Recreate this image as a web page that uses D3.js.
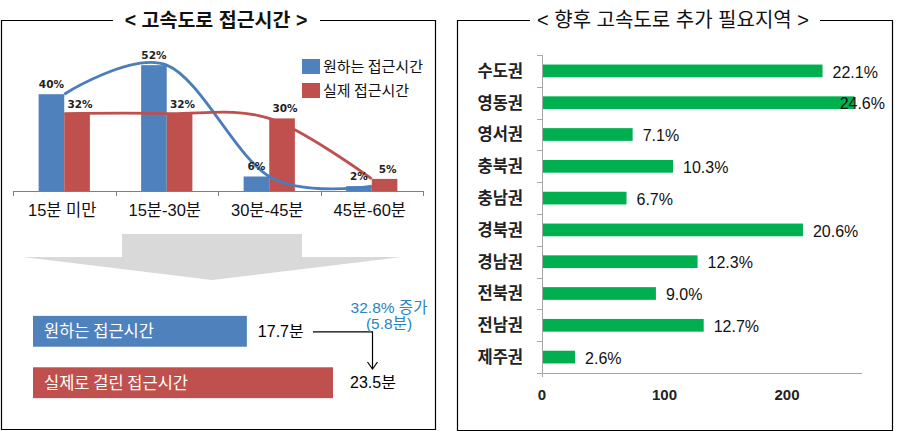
<!DOCTYPE html>
<html><head><meta charset="utf-8">
<script src="https://cdn.jsdelivr.net/npm/d3@7"></script>
<style>body{margin:0;background:#fff} svg{display:block}</style>
</head><body>
<svg id="c" width="897" height="431"></svg>
<script>
// ---------- data ----------
const leftTitle = "< 고속도로 접근시간 >";
const rightTitle = "< 향후 고속도로 추가 필요지역 >";
const timeCategories = ["15분 미만", "15분-30분", "30분-45분", "45분-60분"];
const seriesNames = ["원하는 접근시간", "실제 접근시간"];
const desiredPct = [40, 52, 6, 2];
const actualPct = [32, 32, 30, 5];
const summaryLabels = ["원하는 접근시간", "실제로 걸린 접근시간"];
const summaryMinutes = [17.7, 23.5];
const increaseLabel = ["32.8% 증가", "(5.8분)"];
const regions = ["수도권", "영동권", "영서권", "충북권", "충남권", "경북권", "경남권", "전북권", "전남권", "제주권"];
const regionCounts = [229, 255, 74, 107, 69, 213, 127, 93, 132, 27];
const regionPctLabels = ["22.1%", "24.6%", "7.1%", "10.3%", "6.7%", "20.6%", "12.3%", "9.0%", "12.7%", "2.6%"];
const regionTicks = [0, 100, 200];

// ---------- setup ----------
const svg = d3.select("#c");
const KR = "'Noto Sans CJK KR', sans-serif";
const MIX = "'Liberation Sans', 'Noto Sans CJK KR', sans-serif";
const BLUE = "#4f81bd", RED = "#c0504d", GREEN = "#00b050", LBLUE = "#4a7ebb";

function panel(x0, x1, y0, y1, gap0, gap1, title, tx, weight, size) {
  svg.append("path")
    .attr("d", `M${gap0},${y0}H${x0}V${y1}H${x1}V${y0}H${gap1}`)
    .attr("fill", "none").attr("stroke", "#000").attr("stroke-width", 1.2);
  svg.append("text").attr("x", tx).attr("y", y0 - 1).attr("dy", "0.36em")
    .attr("text-anchor", "middle").attr("font-family", MIX)
    .attr("font-size", size).attr("font-weight", weight).attr("fill", "#111")
    .text(title);
}
panel(1.5, 435.5, 20.5, 429.5, 113, 320, leftTitle, 216, "bold", 19.5);
panel(457.5, 892.5, 20.5, 430.5, 530, 820, rightTitle, 673, "normal", 20);

// ---------- left chart ----------
const x0 = d3.scaleBand().domain(timeCategories).range([13, 423]);
const x1 = d3.scaleBand().domain([0, 1]).range([0, x0.bandwidth()]).paddingOuter(1);
const yL = d3.scaleLinear().domain([0, 60]).range([191, 45.8]);
const series = [desiredPct, actualPct];
const colors = [BLUE, RED];

const gL = svg.append("g");
series.forEach((vals, si) => {
  gL.selectAll(null).data(vals).join("rect")
    .attr("x", (d, i) => x0(timeCategories[i]) + x1(si))
    .attr("y", d => yL(d))
    .attr("width", x1.bandwidth())
    .attr("height", d => yL(0) - yL(d))
    .attr("fill", colors[si]);
});

// axis
gL.append("line").attr("x1", x0.range()[0]).attr("x2", x0.range()[1])
  .attr("y1", yL(0) + 0.5).attr("y2", yL(0) + 0.5).attr("stroke", "#7f7f7f").attr("stroke-width", 1);
const bounds = timeCategories.map(c => x0(c)).concat([x0.range()[1]]);
gL.selectAll(null).data(bounds).join("line")
  .attr("x1", d => Math.round(d) + 0.5).attr("x2", d => Math.round(d) + 0.5)
  .attr("y1", yL(0)).attr("y2", yL(0) + 5).attr("stroke", "#7f7f7f");
gL.selectAll(null).data(timeCategories).join("text")
  .attr("x", d => x0(d) + x0.bandwidth() / 2 - 2).attr("y", 210).attr("dy", "0.36em")
  .attr("text-anchor", "middle").attr("font-family", MIX).attr("font-size", 16.5).attr("fill", "#111")
  .text(d => d);

// smoothed lines
const lineGen = d3.line().curve(d3.curveCardinal.tension(0));
const lineColors = [LBLUE, RED];
series.forEach((vals, si) => {
  const pts = vals.map((v, i) => [x0(timeCategories[i]) + x0.bandwidth() / 2, yL(v)]);
  gL.append("path").attr("d", lineGen(pts)).attr("fill", "none")
    .attr("stroke", lineColors[si]).attr("stroke-width", 2.8);
});

// data labels
series.forEach((vals, si) => {
  gL.selectAll(null).data(vals).join("text")
    .attr("x", (d, i) => x0(timeCategories[i]) + x1(si) + x1.bandwidth() / 2 + (si ? 3 : 0))
    .attr("y", d => yL(d) - 6)
    .attr("text-anchor", "middle").attr("font-family", "'DejaVu Sans', sans-serif")
    .attr("font-size", 10.5).attr("font-weight", "bold").attr("fill", "#222")
    .text(d => d + "%");
});

// legend
seriesNames.forEach((n, i) => {
  const ly = 59 + i * 24;
  gL.append("rect").attr("x", 302).attr("y", ly).attr("width", 18).attr("height", 15).attr("fill", colors[i]);
  gL.append("text").attr("x", 323).attr("y", ly + 7.5).attr("dy", "0.36em")
    .attr("font-family", KR).attr("font-size", 15).attr("fill", "#111").text(n);
});

// big arrow
svg.append("path")
  .attr("d", "M122,234H302V257H402L212,280L23,257H122Z")
  .attr("fill", "#d9d9d9");

// summary bars
const xS = d3.scaleLinear().domain([3.3, 23.5]).range([33, 333]);
const sumY = d3.scaleBand().domain(summaryLabels).range([303, 411]).paddingInner(0.4).paddingOuter(0.25);
const gS = svg.append("g");
summaryLabels.forEach((lab, i) => {
  const y = sumY(lab), h = sumY.bandwidth();
  gS.append("rect").attr("x", xS.range()[0]).attr("y", y).attr("width", xS(summaryMinutes[i]) - xS.range()[0])
    .attr("height", h).attr("fill", colors[i]);
  gS.append("text").attr("x", 44).attr("y", y + h / 2).attr("dy", "0.36em")
    .attr("font-family", KR).attr("font-size", 16.5).attr("fill", "#fff").text(lab);
  gS.append("text").attr("x", xS(summaryMinutes[i]) + 11 + (i ? 6 : 0)).attr("y", y + h / 2).attr("dy", "0.36em")
    .attr("font-family", MIX).attr("font-size", 16).attr("fill", "#000").text(summaryMinutes[i] + "분");
});
// connector arrow
const cy0 = sumY(summaryLabels[0]) + sumY.bandwidth() / 2 + 0.5;
gS.append("path").attr("d", `M313,${cy0}H372.5V369`).attr("fill", "none").attr("stroke", "#000").attr("stroke-width", 1.2);
gS.append("path").attr("d", "M367.5,362L372.5,369L377.5,362").attr("fill", "none").attr("stroke", "#000").attr("stroke-width", 1.2);
increaseLabel.forEach((t, i) => {
  gS.append("text").attr("x", 389).attr("y", 307 + i * 16.5).attr("dy", "0.36em")
    .attr("text-anchor", "middle").attr("font-family", MIX).attr("font-size", 15.5)
    .attr("fill", "#2a84c0").text(t);
});

// ---------- right chart ----------
const yR = d3.scaleBand().domain(regions).range([55, 373]).paddingInner(0.6).paddingOuter(0.3);
const xR = d3.scaleLinear().domain([0, 260]).range([542, 860.5]);
const gR = svg.append("g");
const AX = "#a6a6a6";
gR.append("line").attr("x1", xR(0) + 0.5).attr("x2", xR(0) + 0.5).attr("y1", 55).attr("y2", 377)
  .attr("stroke", AX);
gR.append("line").attr("x1", xR(0)).attr("x2", 862).attr("y1", 373.5).attr("y2", 373.5).attr("stroke", AX);
d3.range(regions.length + 1).forEach(i => {
  const ty = Math.round(yR.range()[0] + i * yR.step()) + 0.5;
  gR.append("line").attr("x1", xR(0) - 5).attr("x2", xR(0)).attr("y1", ty).attr("y2", ty).attr("stroke", AX);
});
gR.selectAll(null).data(regions).join("rect")
  .attr("x", xR(0) + 1).attr("y", d => yR(d))
  .attr("width", (d, i) => xR(regionCounts[i]) - xR(0) - 1)
  .attr("height", yR.bandwidth()).attr("fill", GREEN);
gR.selectAll(null).data(regions).join("text")
  .attr("x", 523).attr("y", d => yR(d) + yR.bandwidth() / 2).attr("dy", "0.36em")
  .attr("text-anchor", "end").attr("font-family", KR).attr("font-size", 16.5).attr("font-weight", "bold")
  .attr("fill", "#222").text(d => d);
gR.selectAll(null).data(regions).join("text")
  .attr("y", d => yR(d) + yR.bandwidth() / 2 + 1).attr("dy", "0.36em")
  .attr("font-family", MIX).attr("font-size", 16).attr("fill", "#111")
  .text((d, i) => regionPctLabels[i])
  .each(function (d, i) {
    const w = this.getComputedTextLength();
    let x = xR(regionCounts[i]) + 10;
    if (x + w > 885) x = 885 - w;
    d3.select(this).attr("x", x);
  });
gR.selectAll(null).data(regionTicks).join("text")
  .attr("x", d => xR(d)).attr("y", 395).attr("dy", "0.36em").attr("text-anchor", "middle")
  .attr("font-family", MIX).attr("font-size", 15).attr("font-weight", "bold").attr("fill", "#222")
  .text(d => d);
</script>
</body></html>
